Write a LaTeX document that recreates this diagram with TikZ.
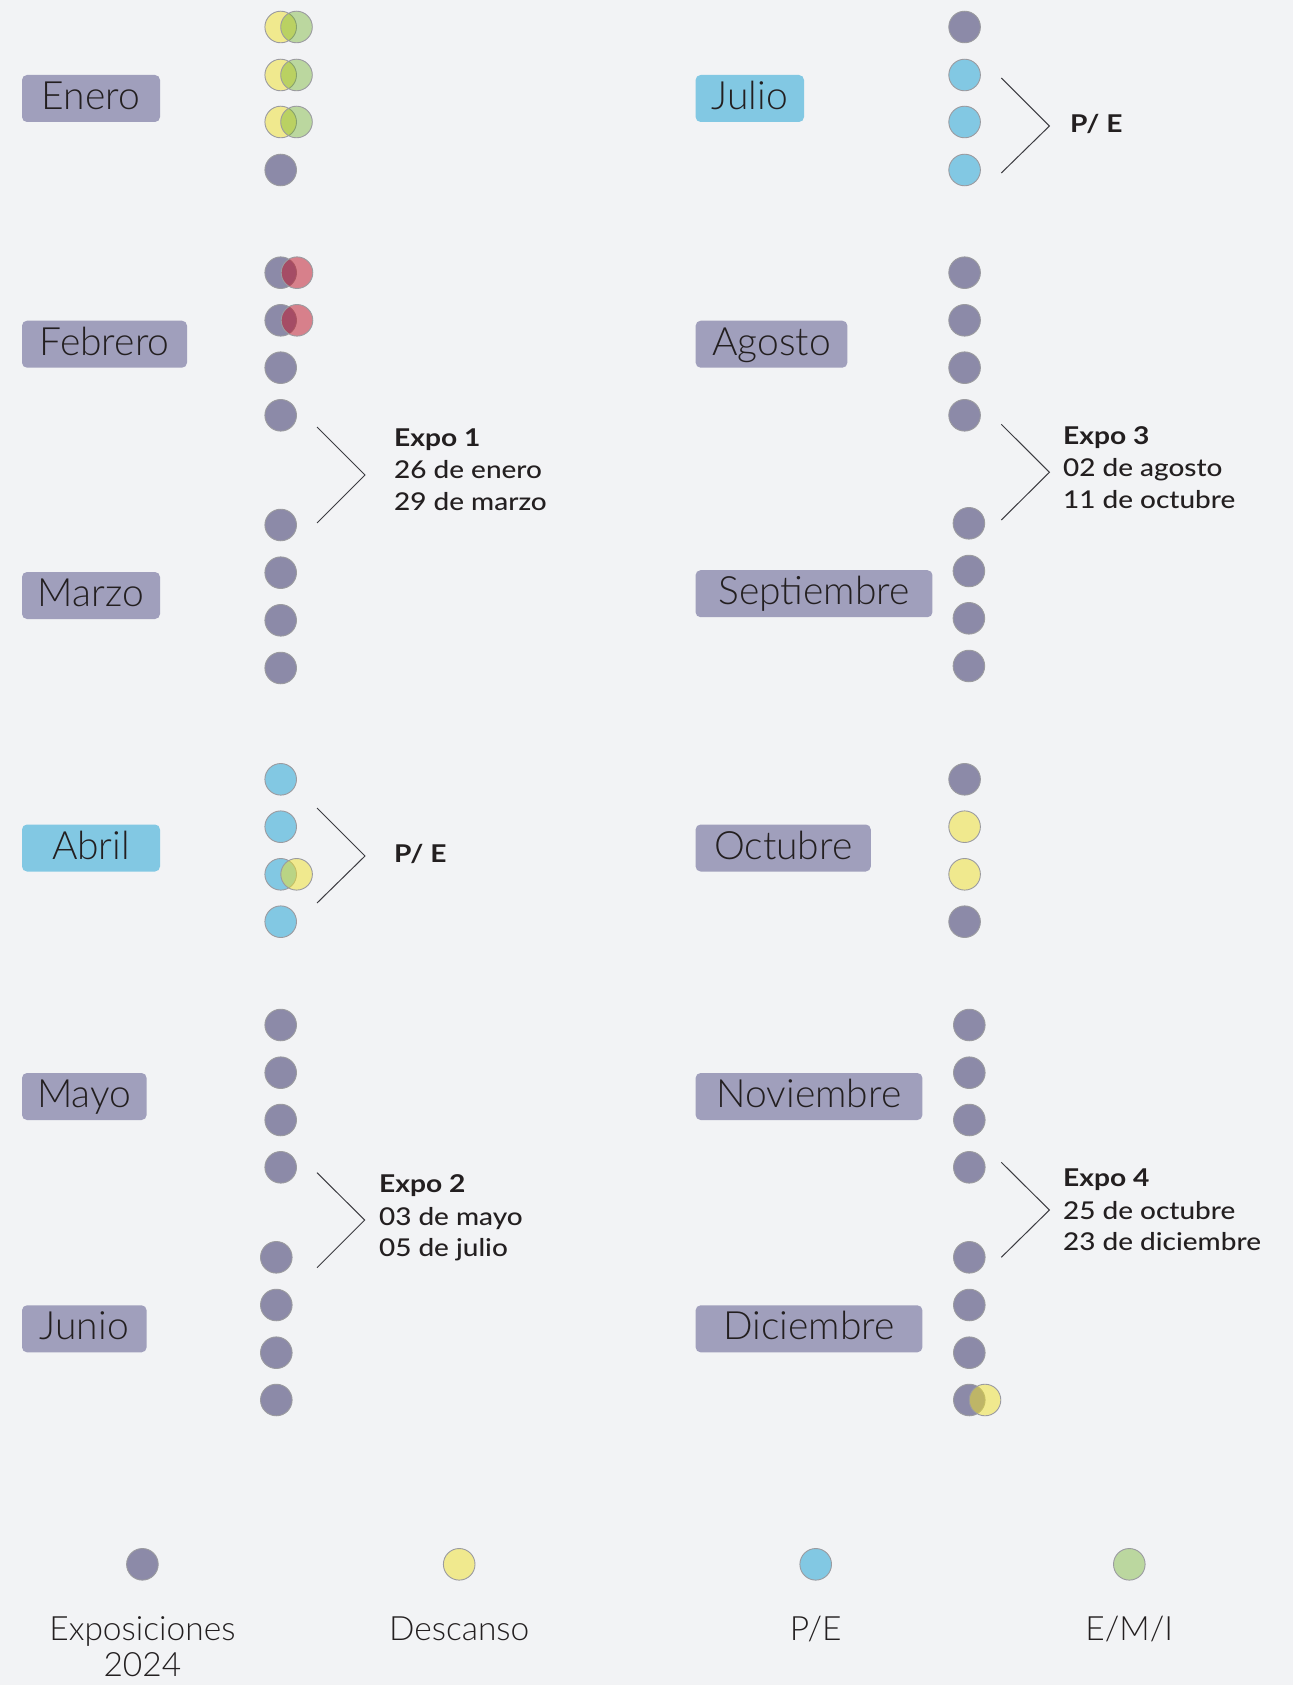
\documentclass[tikz,border=0pt]{standalone}
\usepackage{fontspec}
\setmainfont{Lato}
\newfontfamily\lightfont{Lato Light}
\newfontfamily\expofont[FakeStretch=1.15]{Lato}
\newfontfamily\datefont[FakeStretch=1.14]{Lato Medium}
\definecolor{bg}{RGB}{242,243,245}
\definecolor{dotpur}{RGB}{140,138,168}
\definecolor{boxpur}{RGB}{160,159,188}
\definecolor{pblue}{RGB}{130,200,227}
\definecolor{yel}{RGB}{240,225,40}
\definecolor{grn}{RGB}{105,173,32}
\definecolor{redc}{RGB}{190,15,35}
\definecolor{rim}{RGB}{155,155,160}
\definecolor{ink}{RGB}{35,31,32}
\definecolor{brkc}{RGB}{60,60,65}
\tikzset{
  dot/.style={circle, inner sep=0pt, minimum size=31.6pt, draw=rim, line width=0.9pt},
  dP/.style={dot, fill=dotpur},
  dB/.style={dot, fill=pblue},
  dY/.style={dot, fill=yel, fill opacity=0.5},
  dG/.style={dot, fill=grn, fill opacity=0.4},
  dR/.style={dot, fill=redc, fill opacity=0.5},
  mbox/.style={rounded corners=5pt, inner sep=0pt, minimum height=47pt, text height=22pt, text depth=0pt, font=\lightfont\fontsize{39}{39}\selectfont, text=ink},
  mP/.style={mbox, fill=boxpur},
  mB/.style={mbox, fill=pblue},
  expoB/.style={anchor=base west, inner sep=0pt, font=\expofont\bfseries\fontsize{24.5}{30}\selectfont, text=ink},
  expoT/.style={anchor=base west, inner sep=0pt, font=\datefont\fontsize{24.5}{30}\selectfont, text=ink},
  brk/.style={draw=brkc, line width=1pt},
  leg/.style={anchor=base, inner sep=0pt, font=\lightfont\fontsize{33.5}{33.5}\selectfont, text=ink}
}
\begin{document}
\begin{tikzpicture}[x=1pt, y=-1pt]
\useasboundingbox (0,0) rectangle (1293,1685);
\fill[bg] (0,0) rectangle (1293,1685);

% month boxes
\node[mP, minimum width=138pt] (enero) at (91,98.5) {Enero};
\node[mP, minimum width=165pt] (febrero) at (104.5,344.2) {Febrero};
\node[mP, minimum width=138pt] (marzo) at (91,595.5) {Marzo};
\node[mB, minimum width=138pt] (abril) at (91,848) {Abril};
\node[mP, minimum width=124.6pt] (mayo) at (84.3,1096.5) {Mayo};
\node[mP, minimum width=124.6pt] (junio) at (84.3,1328.8) {Junio};
\node[mB, minimum width=108.4pt] (julio) at (749.8,98.5) {Julio};
\node[mP, minimum width=151.7pt] (agosto) at (771.5,344.2) {Agosto};
\node[mP, minimum width=236.9pt] (septiembre) at (814,593.7) {Septiembre};
\node[mP, minimum width=175.2pt] (octubre) at (783.2,848) {Octubre};
\node[mP, minimum width=226.8pt] (noviembre) at (809,1096.5) {Noviembre};
\node[mP, minimum width=226.8pt] (diciembre) at (809,1328.8) {Diciembre};

% January
\node[dY] (en1) at (280.7,27) {};
\node[dG] (en1b) at (296.5,27) {};
\node[dY] (en2) at (280.7,75) {};
\node[dG] (en2b) at (296.5,75) {};
\node[dY] (en3) at (280.7,122) {};
\node[dG] (en3b) at (296.5,122) {};
\node[dP] (en4) at (280.7,170) {};
% February
\node[dP] (fe1) at (280.7,272.7) {};
\node[dR] (fe1b) at (297,272.7) {};
\node[dP] (fe2) at (280.7,320.3) {};
\node[dR] (fe2b) at (297,320.3) {};
\node[dP] (fe3) at (280.7,367.7) {};
\node[dP] (fe4) at (280.7,415.3) {};
% March
\node[dP] (ma1) at (280.7,525) {};
\node[dP] (ma2) at (280.7,572.7) {};
\node[dP] (ma3) at (280.7,620.3) {};
\node[dP] (ma4) at (280.7,668) {};
% April
\node[dB] (ab1) at (280.7,779.3) {};
\node[dB] (ab2) at (280.7,826.7) {};
\node[dB] (ab3) at (280.7,874.3) {};
\node[dY] (ab3b) at (296.6,874.3) {};
\node[dB] (ab4) at (280.7,921.7) {};
% May
\node[dP] (my1) at (280.7,1025) {};
\node[dP] (my2) at (280.7,1072.7) {};
\node[dP] (my3) at (280.7,1120) {};
\node[dP] (my4) at (280.7,1167.3) {};
% June
\node[dP] (jn1) at (276.3,1257.3) {};
\node[dP] (jn2) at (276.3,1305) {};
\node[dP] (jn3) at (276.3,1352.7) {};
\node[dP] (jn4) at (276.3,1400) {};
% July
\node[dP] (jl1) at (964.6,27) {};
\node[dB] (jl2) at (964.6,75) {};
\node[dB] (jl3) at (964.6,122) {};
\node[dB] (jl4) at (964.6,170) {};
% August
\node[dP] (ag1) at (964.6,272.7) {};
\node[dP] (ag2) at (964.6,320.3) {};
\node[dP] (ag3) at (964.6,367.7) {};
\node[dP] (ag4) at (964.6,415.3) {};
% September
\node[dP] (se1) at (968.9,523.3) {};
\node[dP] (se2) at (968.9,571) {};
\node[dP] (se3) at (968.9,618.3) {};
\node[dP] (se4) at (968.9,666) {};
% October
\node[dP] (oc1) at (964.6,779.3) {};
\node[dY] (oc2) at (964.6,826.7) {};
\node[dY] (oc3) at (964.6,874.3) {};
\node[dP] (oc4) at (964.6,921.7) {};
% November
\node[dP] (no1) at (969.3,1025) {};
\node[dP] (no2) at (969.3,1072.7) {};
\node[dP] (no3) at (969.3,1120) {};
\node[dP] (no4) at (969.3,1167.3) {};
% December
\node[dP] (di1) at (969.3,1257.3) {};
\node[dP] (di2) at (969.3,1305) {};
\node[dP] (di3) at (969.3,1352.7) {};
\node[dP] (di4) at (969.3,1400) {};
\node[dY] (di4b) at (985,1400) {};

% brackets
\draw[brk] (317,427) -- (365,475) -- (317,523);
\draw[brk] (317,808) -- (365,856) -- (317,903);
\draw[brk] (317,1172.7) -- (364.7,1220) -- (317,1267.7);
\draw[brk] (1001.3,78) -- (1049.4,126) -- (1001.3,173);
\draw[brk] (1001.3,424.3) -- (1049.4,472.3) -- (1001.3,520);
\draw[brk] (1001.3,1162.3) -- (1049.4,1210) -- (1001.3,1257.3);

% expo texts
\node[expoB] (x1a) at (394,446) {Expo 1};
\node[expoT] (x1b) at (394,478) {26 de enero};
\node[expoT] (x1c) at (394,510) {29 de marzo};
\node[expoB] (pe1) at (394,862.7) {P/ E};
\node[expoB] (x2a) at (378.9,1192.7) {Expo 2};
\node[expoT] (x2b) at (378.9,1225) {03 de mayo};
\node[expoT] (x2c) at (378.9,1256.7) {05 de julio};
\node[expoB] (pe2) at (1070,133) {P/ E};
\node[expoB] (x3a) at (1063,444) {Expo 3};
\node[expoT] (x3b) at (1063,476.7) {02 de agosto};
\node[expoT] (x3c) at (1063,508.3) {11 de octubre};
\node[expoB] (x4a) at (1063,1186.7) {Expo 4};
\node[expoT] (x4b) at (1063,1219) {25 de octubre};
\node[expoT] (x4c) at (1063,1250.7) {23 de diciembre};

% legend
\node[dP] (lg1) at (142.4,1564.3) {};
\node[dY] (lg2) at (459.2,1564.3) {};
\node[dB] (lg3) at (815.7,1564.3) {};
\node[dG] (lg4) at (1129.3,1564.3) {};
\node[leg] (lt1) at (142.4,1640) {Exposiciones};
\node[leg] (lt1b) at (142.4,1676.7) {2024};
\node[leg] (lt2) at (459.2,1640) {Descanso};
\node[leg] (lt3) at (815.7,1640) {P/E};
\node[leg] (lt4) at (1129.3,1640) {E/M/I};
\end{tikzpicture}
\end{document}
